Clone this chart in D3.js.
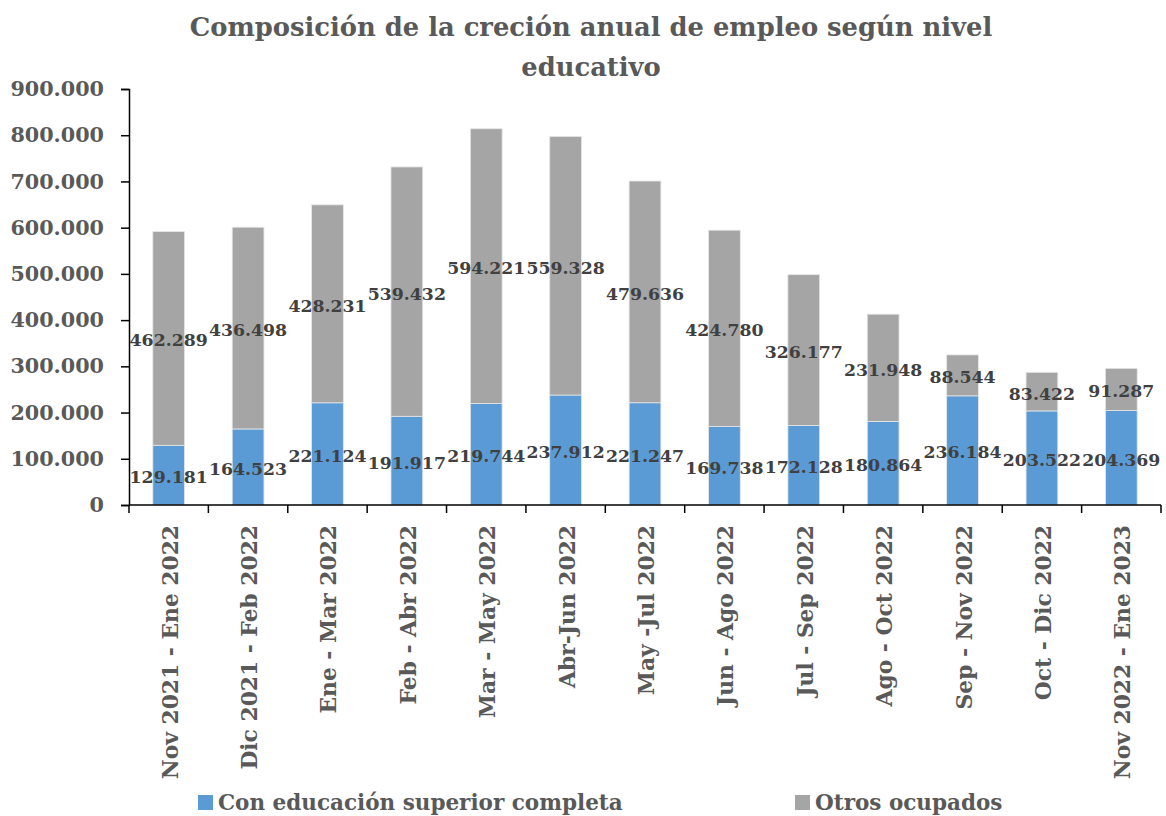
<!DOCTYPE html>
<html>
<head>
<meta charset="utf-8">
<script src="https://cdn.jsdelivr.net/npm/d3@7"></script>
<style>
  body { margin: 0; background: #fff; }
  text { font-family: "DejaVu Serif", serif; font-weight: bold; }
</style>
</head>
<body>
<div id="chart"></div>
<script>
// periods (trimestres moviles)
const categories = [
  "Nov 2021 - Ene 2022", "Dic 2021 - Feb 2022", "Ene - Mar 2022", "Feb - Abr 2022",
  "Mar - May 2022", "Abr-Jun 2022", "May -Jul 2022", "Jun - Ago 2022",
  "Jul - Sep 2022", "Ago - Oct 2022", "Sep - Nov 2022", "Oct - Dic 2022",
  "Nov 2022 - Ene 2023"
];
const superior = [129181, 164523, 221124, 191917, 219744, 237912, 221247, 169738, 172128, 180864, 236184, 203522, 204369];
const otros = [462289, 436498, 428231, 539432, 594221, 559328, 479636, 424780, 326177, 231948, 88544, 83422, 91287];
const seriesNames = ["Con educación superior completa", "Otros ocupados"];
const yTicks = [0, 100000, 200000, 300000, 400000, 500000, 600000, 700000, 800000, 900000];

const width = 1166, height = 816;
const margin = { top: 89, right: 5, bottom: 311, left: 129 };
const colors = ["#5B9BD5", "#A5A5A5"];

const loc = d3.formatLocale({ decimal: ",", thousands: ".", grouping: [3], currency: ["", ""] });
const fmt = loc.format(",d");

const svg = d3.select("#chart").append("svg")
  .attr("width", width)
  .attr("height", height);

// title
svg.append("text")
  .attr("x", 591).attr("y", 36)
  .attr("text-anchor", "middle")
  .attr("fill", "#595959")
  .attr("font-size", "25.8px")
  .text("Composición de la creción anual de empleo según nivel");
svg.append("text")
  .attr("x", 591).attr("y", 76)
  .attr("text-anchor", "middle")
  .attr("fill", "#595959")
  .attr("font-size", "25.8px")
  .text("educativo");

let x = d3.scaleBand()
  .domain(categories)
  .range([margin.left, width - margin.right])
  .paddingInner(0.6)
  .paddingOuter(0.3);

let xCell = d3.scaleBand()
  .domain(categories)
  .range([margin.left, width - margin.right])
  .padding(0);

let y = d3.scaleLinear()
  .domain([0, 900000])
  .range([height - margin.bottom, margin.top]);

let stackData = categories.map((c, i) => ({ cat: c, superior: superior[i], otros: otros[i] }));
let stacked = d3.stack().keys(["superior", "otros"])(stackData);

let layers = svg.append("g")
  .selectAll("g")
  .data(stacked)
  .join("g")
  .attr("fill", (d, i) => colors[i]);

layers.selectAll("rect")
  .data(d => d)
  .join("rect")
  .attr("x", d => x(d.data.cat))
  .attr("y", d => y(d[1]))
  .attr("width", x.bandwidth())
  .attr("height", d => y(d[0]) - y(d[1]))
  .attr("stroke", "#e6e6e6")
  .attr("stroke-width", 0.8);

// y axis
function yAxis(g) {
  g.attr("transform", `translate(${margin.left}, 0)`)
    .call(d3.axisLeft(y).tickValues(yTicks).tickFormat(fmt).tickSize(8).tickPadding(17))
    .call(g => g.select(".domain").attr("stroke", "#000").attr("stroke-width", 1.5))
    .call(g => g.selectAll(".tick line").attr("stroke", "#000").attr("stroke-width", 1.5))
    .call(g => g.selectAll(".tick text")
      .attr("fill", "#595959")
      .attr("font-size", "20.7px")
      .attr("font-family", "DejaVu Serif")
      .attr("font-weight", "bold"));
}
svg.append("g").call(yAxis);

// x axis: line, boundary ticks, rotated labels
let xAxisG = svg.append("g");
xAxisG.append("line")
  .attr("x1", margin.left).attr("x2", width - margin.right)
  .attr("y1", y(0)).attr("y2", y(0))
  .attr("stroke", "#000").attr("stroke-width", 1.5);

let bounds = categories.map(c => xCell(c)).concat([xCell.range()[1]]);
xAxisG.selectAll("line.tk")
  .data(bounds)
  .join("line")
  .attr("class", "tk")
  .attr("x1", d => d).attr("x2", d => d)
  .attr("y1", y(0)).attr("y2", y(0) + 8)
  .attr("stroke", "#000").attr("stroke-width", 1.5);

xAxisG.selectAll("text")
  .data(categories)
  .join("text")
  .attr("transform", d => `translate(${xCell(d) + xCell.bandwidth() / 2 + 9}, ${y(0) + 20}) rotate(-90)`)
  .attr("text-anchor", "end")
  .attr("fill", "#595959")
  .attr("font-size", "21.8px")
  .text(d => d);

// data labels
layers.selectAll("text")
  .data(d => d)
  .join("text")
  .attr("x", d => x(d.data.cat) + x.bandwidth() / 2)
  .attr("y", d => y((d[0] + d[1]) / 2) + 8)
  .attr("text-anchor", "middle")
  .attr("fill", "#404040")
  .attr("font-size", "17.3px")
  .text(d => fmt(d[1] - d[0]));

// legend
let legend = svg.append("g");
let legendX = [198, 795];
seriesNames.forEach((name, i) => {
  legend.append("rect")
    .attr("x", legendX[i]).attr("y", 795)
    .attr("width", 15).attr("height", 15)
    .attr("fill", colors[i]);
  legend.append("text")
    .attr("x", legendX[i] + 20).attr("y", 810)
    .attr("fill", "#595959")
    .attr("font-size", "21.5px")
    .text(name);
});
</script>
</body>
</html>
